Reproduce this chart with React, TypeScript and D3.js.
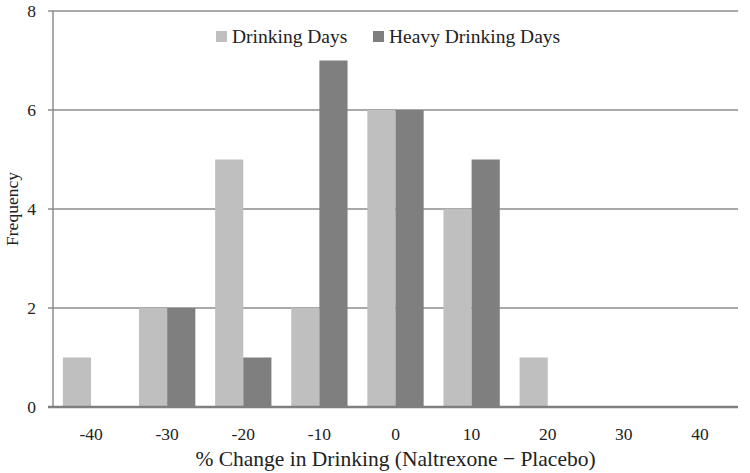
import React, { useRef, useEffect } from 'react';
import * as d3 from 'd3';

const categories = ['-40', '-30', '-20', '-10', '0', '10', '20', '30', '40'];
const drinkingDays = [1, 2, 5, 2, 6, 4, 1, 0, 0];
const heavyDrinkingDays = [0, 2, 1, 7, 6, 5, 0, 0, 0];
const yTicks = [0, 2, 4, 6, 8];
const seriesNames = ['Drinking Days', 'Heavy Drinking Days'];
const seriesColors = ['#bfbfbf', '#7f7f7f'];

const W = 750;
const H = 473;
const FONT = '"Liberation Serif", "DejaVu Serif", serif';

const App = () => {
  const svgRef = useRef<SVGSVGElement>(null);

  useEffect(() => {
    if (!svgRef.current) return;
    const svg = d3.select(svgRef.current);
    svg.selectAll('*').remove();

    const left = 53, right = 738, top = 11, bottom = 407;

    const x = d3.scaleBand().domain(categories).range([left, right]).paddingInner(0.26).paddingOuter(0.13);
    const inner = d3.scaleBand().domain(['0', '1']).range([0, x.bandwidth()]);
    const y = d3.scaleLinear().domain([0, 8]).range([bottom, top]);

    // gridlines
    svg.append('g')
      .selectAll('line')
      .data(yTicks.filter(t => t > 0))
      .enter()
      .append('line')
      .attr('x1', left - 5)
      .attr('x2', right)
      .attr('y1', d => y(d))
      .attr('y2', d => y(d))
      .attr('stroke', '#8c8c8c')
      .attr('stroke-width', 1.5);

    // y axis line
    svg.append('line')
      .attr('x1', left).attr('x2', left)
      .attr('y1', top).attr('y2', bottom)
      .attr('stroke', '#8c8c8c').attr('stroke-width', 1.5);

    // bars
    const series = [drinkingDays, heavyDrinkingDays];
    series.forEach((vals, si) => {
      svg.append('g')
        .selectAll('rect')
        .data(vals.map((v, i) => ({ v, c: categories[i] })).filter(d => d.v > 0))
        .enter()
        .append('rect')
        .attr('x', d => (x(d.c) ?? 0) + (inner(String(si)) ?? 0))
        .attr('y', d => y(d.v))
        .attr('width', inner.bandwidth())
        .attr('height', d => y(0) - y(d.v))
        .attr('fill', seriesColors[si]);
    });

    // baseline
    svg.append('line')
      .attr('x1', left - 5).attr('x2', right)
      .attr('y1', bottom).attr('y2', bottom)
      .attr('stroke', '#7f7f7f').attr('stroke-width', 2.5);

    // y tick labels
    svg.append('g')
      .selectAll('text')
      .data(yTicks)
      .enter()
      .append('text')
      .attr('x', 36)
      .attr('y', d => y(d) + 6)
      .attr('text-anchor', 'end')
      .attr('font-family', FONT)
      .attr('font-size', 17.5)
      .attr('fill', '#222')
      .text(d => d);

    // x tick labels
    svg.append('g')
      .selectAll('text')
      .data(categories)
      .enter()
      .append('text')
      .attr('x', d => (x(d) ?? 0) + x.bandwidth() / 2)
      .attr('y', 440)
      .attr('text-anchor', 'middle')
      .attr('font-family', FONT)
      .attr('font-size', 17.5)
      .attr('fill', '#222')
      .text(d => d);

    // axis titles
    svg.append('text')
      .attr('x', (left + right) / 2)
      .attr('y', 466)
      .attr('text-anchor', 'middle')
      .attr('font-family', FONT)
      .attr('font-size', 21.5)
      .attr('fill', '#222')
      .text('% Change in Drinking (Naltrexone \u2212 Placebo)');

    svg.append('text')
      .attr('transform', `translate(18, ${(top + bottom) / 2}) rotate(-90)`)
      .attr('text-anchor', 'middle')
      .attr('font-family', FONT)
      .attr('font-size', 17.5)
      .attr('fill', '#222')
      .text('Frequency');

    // legend
    const legendX = [216, 373];
    seriesNames.forEach((name, i) => {
      svg.append('rect')
        .attr('x', legendX[i]).attr('y', 31)
        .attr('width', 11).attr('height', 11)
        .attr('fill', seriesColors[i]);
      svg.append('text')
        .attr('x', legendX[i] + 16).attr('y', 43)
        .attr('font-family', FONT)
        .attr('font-size', 19.5)
        .attr('fill', '#222')
        .text(name);
    });
  }, []);

  return (
    <div style={{ position: 'absolute', left: 0, top: 0, width: W, height: H, background: '#fff' }}>
      <svg ref={svgRef} width={W} height={H}></svg>
    </div>
  );
};

export default App;
